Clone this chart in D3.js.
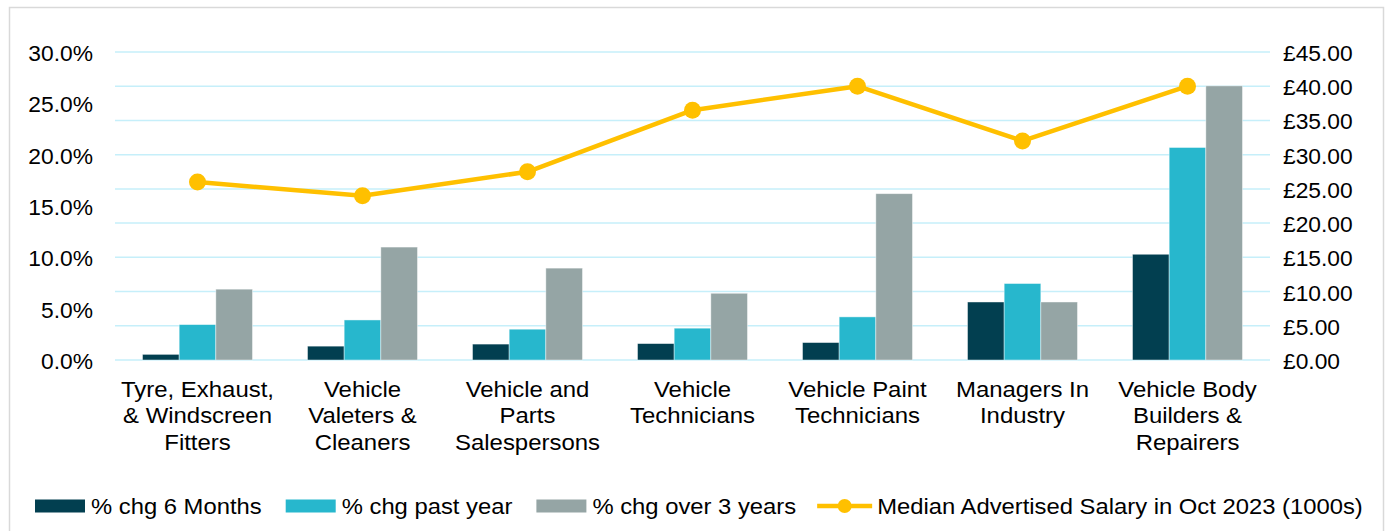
<!DOCTYPE html>
<html><head><meta charset="utf-8">
<script src="https://cdn.jsdelivr.net/npm/d3@7"></script>
<style>
html,body{margin:0;padding:0;background:#fff;}
svg{display:block;font-family:"Liberation Sans",Arial,sans-serif;}
</style></head>
<body><svg id="chart" width="1391" height="531"></svg>
<script>
const categories = ["Tyre, Exhaust,\n& Windscreen\nFitters","Vehicle\nValeters &\nCleaners","Vehicle and\nParts\nSalespersons","Vehicle\nTechnicians","Vehicle Paint\nTechnicians","Managers In\nIndustry","Vehicle Body\nBuilders &\nRepairers"];
const seriesNames = ["% chg 6 Months","% chg past year","% chg over 3 years"];
const lineName = "Median Advertised Salary in Oct 2023 (1000s)";
const chg6m = [0.55,1.35,1.55,1.6,1.7,5.65,10.3];
const chg1y = [3.45,3.9,3.0,3.1,4.2,7.45,20.7];
const chg3y = [6.9,11.0,8.95,6.5,16.2,5.65,26.7];
const salary = [26.0,24.0,27.5,36.5,40.0,32.0,40.0];
const leftTicks = [0,5,10,15,20,25,30];
const rightTicks = [0,5,10,15,20,25,30,35,40,45];

const colors = ["#023F50","#27B7CD","#95A5A5"];
const lineColor = "#FFC000";
const FS = 22.8;

const svg = d3.select("#chart");
svg.append("rect").attr("x",9.5).attr("y",7.5).attr("width",1374).attr("height",540)
  .attr("fill","#fff").attr("stroke","#d9d9d9").attr("stroke-width",1.5);

const plotL = 115, plotR = 1270, plotT = 52, plotB = 360;
const x = d3.scaleBand().domain(categories).range([plotL,plotR]).paddingInner(0).paddingOuter(0);
const x1 = d3.scaleBand().domain(seriesNames).range([0,x.bandwidth()]).paddingInner(0).paddingOuter(0.75);
const yL = d3.scaleLinear().domain([0,30]).range([plotB,plotT]);
const yR = d3.scaleLinear().domain([0,45]).range([plotB,plotT]);

function txt(parent, s, tx, ty, anchor, sx){
  const g = parent.append("g").attr("transform",`translate(${tx},${ty}) scale(${sx||1},1)`);
  const t = g.append("text").attr("x",0).attr("y",0).attr("text-anchor",anchor||"start")
    .attr("dominant-baseline","central").attr("font-size",FS).attr("fill","#000").text(s);
  return t;
}

// gridlines
svg.append("g").selectAll("line").data(rightTicks).join("line")
  .attr("x1",plotL).attr("x2",plotR).attr("y1",d=>yR(d)).attr("y2",d=>yR(d))
  .attr("stroke","#C6EFFA").attr("stroke-width",1.5);

// bars
const seriesVals = [chg6m,chg1y,chg3y];
seriesVals.forEach((vals,si)=>{
  svg.append("g").selectAll("rect").data(vals).join("rect")
    .attr("x",(d,i)=>x(categories[i])+x1(seriesNames[si]))
    .attr("width",x1.bandwidth())
    .attr("y",d=>yL(d)).attr("height",d=>yL(0)-yL(d))
    .attr("fill",colors[si]).attr("stroke","rgba(255,255,255,0.55)").attr("stroke-width",0.8);
});

// line
const line = d3.line().x((d,i)=>x(categories[i])+x.bandwidth()/2).y(d=>yR(d));
svg.append("path").datum(salary).attr("d",line).attr("fill","none")
  .attr("stroke",lineColor).attr("stroke-width",4.5).attr("stroke-linejoin","round");
svg.append("g").selectAll("circle").data(salary).join("circle")
  .attr("cx",(d,i)=>x(categories[i])+x.bandwidth()/2).attr("cy",d=>yR(d)).attr("r",8.5)
  .attr("fill",lineColor);

// left axis labels
const gl = svg.append("g");
leftTicks.forEach(v=>txt(gl, d3.format(".1f")(v)+"%", 93, yL(v)+1, "end"));
// right axis labels
const gr = svg.append("g");
rightTicks.forEach(v=>txt(gr, "£"+d3.format(".2f")(v), 1283, yR(v)+1, "start"));

// category labels
const gc = svg.append("g");
categories.forEach(c=>{
  c.split("\n").forEach((ln,li)=>txt(gc, ln, x(c)+x.bandwidth()/2, 389+li*26.5, "middle", 1.05));
});

// legend
const LSX = 1.045;
const lg = svg.append("g");
let lx = 35; const ly = 506;
seriesNames.forEach((s,i)=>{
  lg.append("rect").attr("x",lx).attr("y",ly-6.5).attr("width",50).attr("height",13).attr("fill",colors[i]);
  const t = txt(lg, s, lx+56, ly, "start", LSX);
  lx += 56 + t.node().getComputedTextLength()*LSX + 24;
});
lx -= 3;
lg.append("line").attr("x1",lx).attr("x2",lx+55).attr("y1",ly).attr("y2",ly)
  .attr("stroke",lineColor).attr("stroke-width",4.5);
lg.append("circle").attr("cx",lx+27.5).attr("cy",ly).attr("r",7).attr("fill",lineColor);
txt(lg, lineName, lx+60, ly, "start", LSX);
</script></body></html>
